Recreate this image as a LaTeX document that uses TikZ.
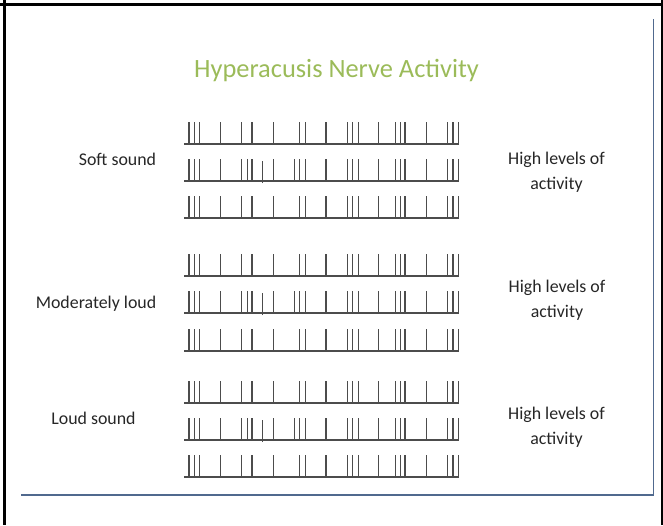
\documentclass[tikz,border=0pt]{standalone}
\usepackage{fontspec}
\setmainfont{Carlito}
\definecolor{titlegreen}{RGB}{155,187,89}
\definecolor{framegray}{RGB}{80,105,142}

\begin{document}
\begin{tikzpicture}[x=0.75pt, y=-0.75pt,
  labeltext/.style={font=\fontsize{13.4}{18.5}\selectfont, text=black!85, inner sep=0pt},
  spike/.style={line width=0.85pt, black!70},
  ]
  \useasboundingbox (0,0) rectangle (663,525);

  % frame
  \draw[line width=2.2pt] (0,4.3) -- (663,4.3);
  \draw[line width=2.2pt] (4.3,0) -- (4.3,525);
  \draw[line width=1.4pt] (662,0) -- (662,525);
  \draw[framegray, line width=1pt] (653.3,19) -- (653.3,495) -- (20.7,495);

  \node[font=\fontsize{19.8}{23}\selectfont, text=titlegreen, anchor=base, inner sep=0pt] (title) at (336.5,77) {Hyperacusis Nerve Activity};

  \node[labeltext, anchor=base] (soft) at (117.5,165) {Soft sound};
  \node[labeltext, anchor=base] (moderate) at (96,308) {Moderately loud};
  \node[labeltext, anchor=base] (loud) at (93.5,424) {Loud sound};

  % anchor=base sits on the last line
  \node[labeltext, align=center, anchor=base] (high1) at (556.5,189) {High levels of\\activity};
  \node[labeltext, align=center, anchor=base] (high2) at (557,317) {High levels of\\activity};
  \node[labeltext, align=center, anchor=base] (high3) at (556.5,444) {High levels of\\activity};

  % spike trains
  \foreach \y in {144,218,276,351,403,477} {
    \draw[spike] (184,\y) -- (459,\y);
    \foreach \x in {189,194.3,199.3,220.7,241.3,252,273.3,299.3,305.3,326,347.3,352.3,358.3,378.7,395.3,400.3,405,426.3,447.7,453,458.3}
      \draw[spike] (\x,\y) -- ++(0,-22);
  }
  \foreach \y in {181,313,440} {
    \draw[spike] (184,\y) -- (459,\y);
    \foreach \x in {189,194.3,199.3,220.7,241.3,247.3,252,273.3,294.7,299.3,305.3,326,347.3,352.3,358.3,378.7,395.3,400.3,405,426.3,447.7,453,458.3}
      \draw[spike] (\x,\y) -- ++(0,-22);
    \draw[spike] (262.7,\y+2) -- ++(0,-22);
  }
\end{tikzpicture}
\end{document}
